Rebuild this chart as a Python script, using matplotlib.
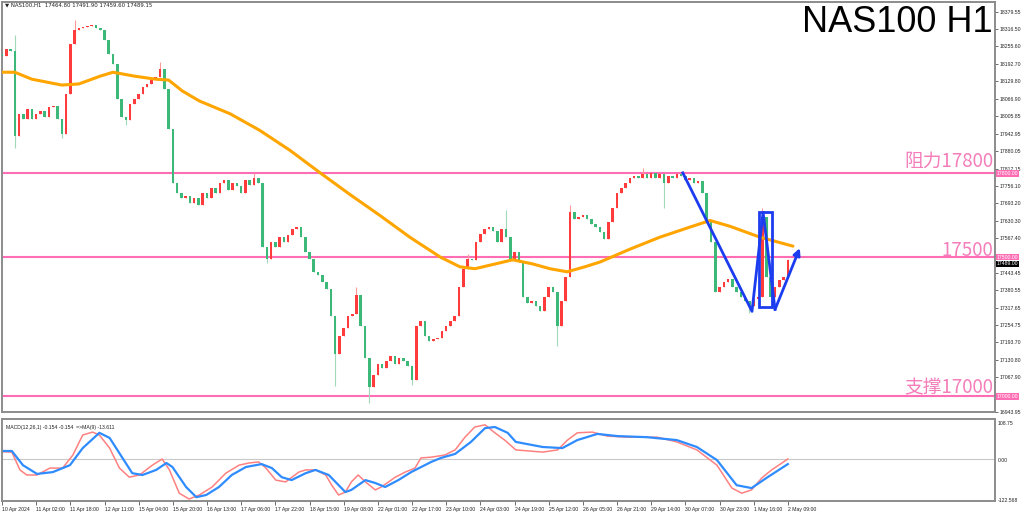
import numpy as np
import matplotlib.pyplot as plt
from matplotlib.transforms import blended_transform_factory

plt.rcParams['font.family'] = ['DejaVu Sans']

# 2-hour candles, close prices
closes = [18220, 18245, 18238, 17936, 18014, 17997, 18032, 17997, 18014, 18025,
          18004, 18039, 18043, 17997, 17943, 18085, 18263, 18316, 18323, 18326,
          18330, 18333, 18323, 18316, 18280, 18227, 18192, 18068, 18004, 17990,
          18050, 18068, 18085, 18110, 18121, 18138, 18146, 18174, 18103, 17961,
          17766, 17731, 17713, 17720, 17695, 17713, 17688, 17731, 17713, 17748,
          17731, 17766, 17777, 17741, 17766, 17755, 17731, 17777, 17759, 17784,
          17766, 17536, 17493, 17553, 17536, 17571, 17553, 17578, 17599, 17607,
          17571, 17518, 17493, 17447, 17436, 17412, 17387, 17287, 17153, 17217,
          17245, 17287, 17295, 17365, 17252, 17138, 17032, 17075, 17117, 17103,
          17128, 17146, 17117, 17138, 17128, 17110, 17057, 17252, 17270, 17217,
          17199, 17205, 17209, 17234, 17252, 17270, 17287, 17394, 17458, 17493,
          17490, 17553, 17582, 17599, 17607, 17592, 17553, 17599, 17571, 17493,
          17518, 17482, 17358, 17334, 17341, 17323, 17305, 17358, 17394, 17376,
          17252, 17341, 17429, 17660, 17635, 17642, 17649, 17635, 17617, 17607,
          17589, 17564, 17624, 17677, 17731, 17748, 17766, 17784, 17791, 17784,
          17798, 17784, 17802, 17784, 17798, 17766, 17791, 17784, 17798, 17791,
          17777, 17784, 17766, 17773, 17731, 17624, 17553, 17376, 17394, 17412,
          17422, 17394, 17376, 17358, 17341, 17323, 17351, 17358, 17642, 17429,
          17358, 17394, 17419, 17429, 17489]
first_open = 18227

# notable wicks
hi_bars = [3, 17, 37, 59, 83, 109, 118, 133, 150, 178, 184]
hi_vals = [18298, 18351, 18199, 17800, 17394, 17510, 17667, 17688, 17820, 17677, 17492]
lo_bars = [3, 14, 29, 62, 78, 86, 96, 130, 155, 175]
lo_vals = [17890, 17926, 17975, 17480, 17039, 16975, 17040, 17181, 17677, 17300]

# moving average (orange)
ma_x = [0, 3, 7, 14, 18, 23, 26, 31, 36, 39, 42.2, 46.2, 53.4, 60.4, 67.4,
        74.5, 81.5, 88.5, 95.5, 102.6, 107.2, 110.7, 119.6, 124.3, 128.3,
        132.3, 136.5, 140, 147, 154, 161, 165.8, 170.5, 177.5, 185.2]
ma_y = [18163, 18163, 18138, 18117, 18121, 18149, 18163, 18149, 18138, 18135,
        18096, 18060, 18014, 17954, 17883, 17802, 17724, 17649, 17571, 17500,
        17465, 17458, 17490, 17475, 17458, 17447, 17465, 17482, 17528, 17571,
        17607, 17631, 17610, 17571, 17539]

# MACD main line (red) and signal (blue)
macd_x = [0, 2.3, 4.2, 5.8, 8.2, 11.2, 14.2, 16.6, 18.9, 21.2, 22.8, 25.2, 27.5,
          29.8, 32.2, 35.2, 37.5, 39.2, 41.5, 43.8, 46.2, 49.2, 52.4, 55.5, 57.8,
          60.1, 61.8, 64.1, 66.4, 69.5, 71.1, 73.4, 75.8, 77.2, 78.8, 80.4, 81.8,
          83.4, 85.1, 87.4, 88.8, 92.1, 94.4, 96.7, 98.1, 100.5, 103.7, 106.1,
          108.4, 110.7, 113.1, 115.4, 117.7, 120.3, 126.6, 130.1, 132.4, 134.7,
          138.2, 141.7, 146.4, 153.4, 158, 162.7, 167.4, 170.9, 173.2, 175.5,
          177.9, 180.2, 184]
macd_y = [20, 19, -30, -44, -44, -25, -25, 11, 66, 74, 66, 30, -25, -50, -44, -17,
          0, -30, -94, -110, -99, -77, -39, -17, -11, -8, -25, -58, -63, -36, -30,
          -30, -44, -72, -99, -91, -63, -44, -63, -85, -77, -50, -36, -25, 3, 5,
          11, 25, 60, 88, 94, 72, 52, 25, 19, 25, 52, 72, 74, 63, 60, 60, 47, 25,
          -17, -80, -94, -85, -52, -30, 0]
sig_x = [0, 2.3, 4.9, 8.2, 11.9, 15.9, 18.9, 22.8, 25.2, 28.2, 30.5, 32.9, 36.1,
         38.5, 39.9, 43.1, 45.5, 47.8, 50.8, 53.8, 57.1, 60.8, 63.2, 65.5, 67.8,
         71.1, 73.4, 76.5, 80.4, 81.8, 85.1, 87.4, 89.7, 92.8, 95.8, 100.5,
         102.8, 106.1, 109.8, 113.1, 115.4, 118.4, 120.3, 126.6, 131.2, 134.7,
         139.4, 144.1, 151, 158, 162.7, 167.4, 172, 175.5, 179, 184]
sig_y = [22, 22, -17, -41, -36, -17, 30, 72, 58, 3, -39, -44, -30, -11, -22, -77,
         -105, -99, -77, -44, -22, -14, -25, -50, -58, -39, -30, -44, -91, -85,
         -58, -66, -77, -58, -36, -8, 3, 14, 47, 85, 88, 72, 47, 33, 30, 52, 69,
         63, 60, 52, 33, -3, -72, -80, -52, -14]

# blue hand-drawn zigzag (bar, price)
zig_x = [159.4, 175.6, 178.2, 181.0]
zig_y = [17802, 17305, 17660, 17312]
arrow_end = (186.8, 17532)
box_x = [177.2, 180.3]
box_y = [17319, 17663]

levels = [17800, 17500, 17000]
price_ticks = [18379.55, 18316.50, 18255.60, 18192.70, 18129.80, 18066.90,
               18005.85, 17942.95, 17880.05, 17817.15, 17756.10, 17693.20,
               17630.30, 17567.40, 17443.45, 17380.55, 17317.65, 17254.75,
               17193.70, 17130.80, 17067.90, 16943.95]
time_labels = ["10 Apr 2024", "11 Apr 02:00", "11 Apr 18:00", "12 Apr 11:00",
               "15 Apr 04:00", "15 Apr 20:00", "16 Apr 13:00", "17 Apr 06:00",
               "17 Apr 22:00", "18 Apr 15:00", "19 Apr 08:00", "22 Apr 01:00",
               "22 Apr 17:00", "23 Apr 10:00", "24 Apr 03:00", "24 Apr 19:00",
               "25 Apr 12:00", "26 Apr 05:00", "26 Apr 21:00", "29 Apr 14:00",
               "30 Apr 07:00", "30 Apr 23:00", "1 May 16:00", "2 May 09:00"]

W, H = 1024, 515
fig = plt.figure(figsize=(W / 100, H / 100), dpi=100)
fig.patch.set_facecolor('white')

def fx(px):
    return px / W

def fy(py):
    return 1 - py / H

ax = fig.add_axes([fx(2), fy(412), fx(995) - fx(2), fy(2) - fy(412)])
ax2 = fig.add_axes([fx(2), fy(501), fx(995) - fx(2), fy(419) - fy(501)])

xlim = (0, 232.5)
small = dict(fontsize=3.7, family='Liberation Sans', color='#222222')

# candles
closes = np.array(closes, dtype=float)
opens = np.concatenate([[first_open], closes[:-1]])
idx = np.arange(len(closes))
highs = np.maximum(opens, closes)
lows = np.minimum(opens, closes)
highs[hi_bars] = np.maximum(highs[hi_bars], hi_vals)
lows[lo_bars] = np.minimum(lows[lo_bars], lo_vals)
up = closes >= opens
col = np.where(up, '#ff3b3b', '#3cb878')
wcol = np.where(up, '#ff9a9a', '#9fd9b8')
ax.vlines(idx, lows, highs, colors=wcol, lw=0.8, zorder=2)
body = np.maximum(np.abs(closes - opens), 3)
ax.bar(idx, body, bottom=np.minimum(opens, closes), width=0.6, color=col,
       linewidth=0, zorder=3)

ax.plot(ma_x, ma_y, color='#ffa500', lw=2.2, zorder=4, solid_capstyle='round',
        solid_joinstyle='round')

for lv in levels:
    ax.axhline(lv, color='#ff6eb4', lw=1.5, zorder=1)

# zigzag annotation
ax.plot(zig_x, zig_y, color='#1c3cf0', lw=2, zorder=6)
ax.annotate('', xy=arrow_end, xytext=(zig_x[3], zig_y[3]),
            arrowprops=dict(arrowstyle='-|>', color='#1c3cf0', lw=2,
                            mutation_scale=10, shrinkA=0, shrinkB=0), zorder=6)
ax.add_patch(plt.Rectangle((box_x[0], box_y[0]), box_x[1] - box_x[0],
                           box_y[1] - box_y[0], fill=False, ec='#1c3cf0',
                           lw=2, zorder=6))

ax.set_xlim(*xlim)
ax.set_ylim(16961, 18415)
ax.set_xticks([])
ax.yaxis.tick_right()
ax.set_yticks(price_ticks)
ax.set_yticklabels(['%.2f' % v for v in price_ticks], family='Liberation Sans')
ax.tick_params(axis='y', labelsize=3.7, length=2, width=0.6, color='#555555',
               pad=1.2, labelcolor='#222222')
for s in ax.spines.values():
    s.set_color('#8c8c8c')
    s.set_linewidth(1.4)

tr = blended_transform_factory(ax.transAxes, ax.transData)
for lv in levels:
    ax.text(1.002, lv, '%.2f' % lv, transform=tr, fontsize=3.7,
            family='Liberation Sans', color='white', va='center', ha='left',
            zorder=10, clip_on=False,
            bbox=dict(boxstyle='square,pad=0.15', fc='#ff6eb4', ec='none'))
ax.text(1.002, closes[-1] - 14, '%.2f' % closes[-1], transform=tr, fontsize=3.7,
        family='Liberation Sans', color='white', va='center', ha='left',
        zorder=11, clip_on=False,
        bbox=dict(boxstyle='square,pad=0.15', fc='black', ec='none'))

# MACD panel
ax2.axhline(0, color='#c8c8c8', lw=0.8)
ax2.plot(macd_x, macd_y, color='#ff8080', lw=1.1, solid_joinstyle='round')
ax2.plot(sig_x, sig_y, color='#2f8cff', lw=1.6, solid_joinstyle='round')
ax2.set_xlim(*xlim)
ax2.set_ylim(-115.5, 110)
ax2.set_yticks([])
ax2.set_xticks([8 * k for k in range(len(time_labels))])
ax2.set_xticklabels(time_labels, family='Liberation Sans')
ax2.tick_params(axis='x', labelsize=3.7, length=3, width=0.6, color='#555555',
                pad=1.5, labelcolor='#222222')
for lab in ax2.get_xticklabels():
    lab.set_ha('left')
for s in ax2.spines.values():
    s.set_color('#8c8c8c')
    s.set_linewidth(1.4)
ax2.text(1.003, 0.95, '108.75', transform=ax2.transAxes, va='center',
         ha='left', **small)
ax2.text(1.003, 0.5, '0.00', transform=ax2.transAxes, va='center', ha='left',
         **small)
ax2.text(1.003, 0.0, '-122.568', transform=ax2.transAxes, va='center',
         ha='left', **small)
ax2.text(0.004, 0.9, 'MACD(12,26,1) -0.154 -0.154  =>MA(9) -13.611',
         transform=ax2.transAxes, va='center', ha='left', **small)

# header and titles
fig.text(fx(5), fy(5), '\u25bc NAS100,H1  17464.80 17491.90 17459.60 17489.15',
         fontsize=3.9, va='center', ha='left', color='#222222')
fig.text(fx(993), fy(22), 'NAS100 H1', fontsize=26, ha='right', va='center',
         family='Liberation Sans', color='black')
cjk = ['Noto Sans CJK SC', 'DejaVu Sans']
fig.text(fx(993), fy(161), '阻力17800', fontsize=13.5, ha='right', va='center',
         family=cjk, color='#f47dba')
fig.text(fx(993), fy(250), '17500', fontsize=13.5, ha='right', va='center',
         family=cjk, color='#f47dba')
fig.text(fx(993), fy(388), '支撑17000', fontsize=13.5, ha='right', va='center',
         family=cjk, color='#f47dba')

fig.savefig('out.png', dpi=100, facecolor='white')
